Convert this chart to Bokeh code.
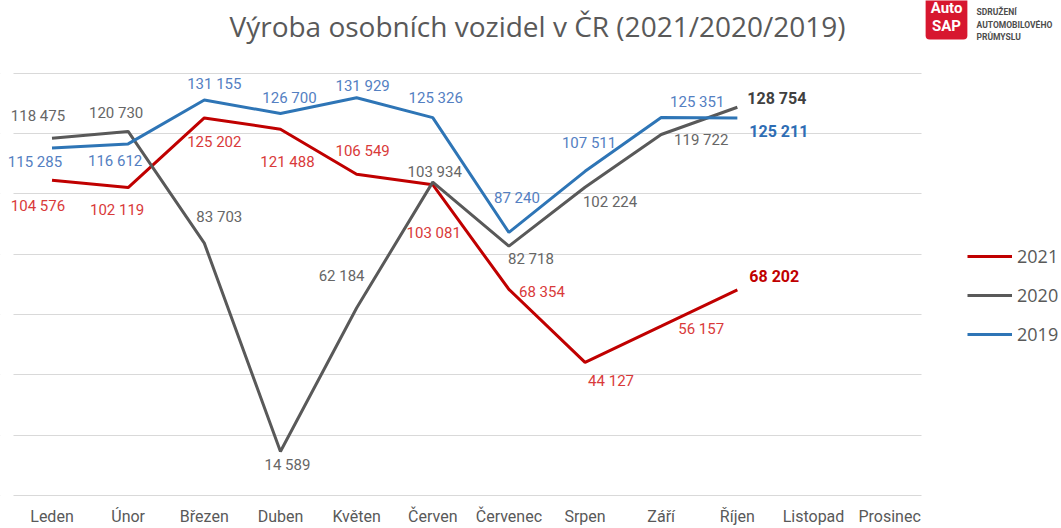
from bokeh.plotting import figure
from bokeh.models import (ColumnDataSource, Range1d, FixedTicker, BoxAnnotation,
                          Legend, LegendItem, Label)
from bokeh.core.properties import value
from bokeh.embed import file_html
from bokeh.resources import INLINE

months = ["Leden", "Únor", "Březen", "Duben", "Květen", "Červen", "Červenec",
          "Srpen", "Září", "Říjen", "Listopad", "Prosinec"]
v2021 = [104576, 102119, 125202, 121488, 106549, 103081, 68354, 44127, 56157, 68202]
v2020 = [118475, 120730, 83703, 14589, 62184, 103934, 82718, 102224, 119722, 128754]
v2019 = [115285, 116612, 131155, 126700, 131929, 125326, 87240, 107511, 125351, 125211]
grid_values = [0, 20000, 40000, 60000, 80000, 100000, 120000, 140000]

# label offsets (screen px) - styling only
off2021 = [(-14, 26), (-11, 22), (10, 24), (7, 33), (6, -23), (1, 48), (33, 3), (26, 19), (40, 3), (12, -13)]
off2020 = [(-14, -22), (-12, -18), (15, -26), (7, 13), (-15, -32), (2, -10), (22, 13), (25, 15), (40, 5), (10, -9)]
off2019 = [(-17, 14), (-13, 17), (10, -16), (9, -15), (6, -12), (3, -20), (8, -34), (4, -28), (36, -16), (12, 14)]

W, H = 1061, 528
FB = 28                      # bottom border (axis)
FH = H - FB                  # frame height
x0_px, step_px = 51.5, 76.15
g_top_px, g_bot_px = 73.3, 498.0
k = (g_bot_px - g_top_px) / 140000.0
y_start = -(FH - g_bot_px) / k
y_end = 140000 + g_top_px / k
x_start = -x0_px / step_px
x_end = (W - x0_px) / step_px

p = figure(width=W, height=H, x_range=Range1d(x_start, x_end), y_range=Range1d(y_start, y_end),
           output_backend="svg", toolbar_location=None,
           min_border_left=0, min_border_right=0, min_border_top=0, min_border_bottom=FB)
p.outline_line_color = None
p.background_fill_color = "white"
p.border_fill_color = "white"
p.xgrid.grid_line_color = None
p.yaxis.ticker = FixedTicker(ticks=grid_values)
p.yaxis.visible = False
p.ygrid.grid_line_color = "#D9D9D9"
p.ygrid.grid_line_width = 1
idx = list(range(len(months)))
p.xaxis.ticker = FixedTicker(ticks=idx)
p.xaxis.major_label_overrides = {i: m for i, m in zip(idx, months)}
p.xaxis.axis_line_color = None
p.xaxis.major_tick_line_color = None
p.xaxis.minor_tick_line_color = None
p.xaxis.major_tick_out = 0
p.xaxis.major_tick_in = 0
p.xaxis.minor_tick_out = 0
p.xaxis.major_label_standoff = 9
p.xaxis.major_label_text_font = "Roboto"
p.xaxis.major_label_text_font_size = "16px"
p.xaxis.major_label_text_color = "#595959"

# trim gridlines to the plot area
p.add_layout(BoxAnnotation(left=0, right=13, top=FH, bottom=0, left_units="screen", right_units="screen",
                           top_units="screen", bottom_units="screen", fill_color="white", fill_alpha=1,
                           line_color=None, level="underlay"))
p.add_layout(BoxAnnotation(left=921, right=W, top=FH, bottom=0, left_units="screen", right_units="screen",
                           top_units="screen", bottom_units="screen", fill_color="white", fill_alpha=1,
                           line_color=None, level="underlay"))

def fmt(v):
    return f"{v:,}".replace(",", " ")

series = [
    ("2021", v2021, off2021, "#C00000", "#D93A3A", "#C00000"),
    ("2020", v2020, off2020, "#595959", "#666666", "#404040"),
    ("2019", v2019, off2019, "#2E75B6", "#5480C2", "#2E6DB4"),
]
items = []
for name, vals, offs, lc, tc, bc in series:
    xs = idx[:len(vals)]
    r = p.line(xs, vals, line_color=lc, line_width=3)
    items.append(LegendItem(label=name, renderers=[r]))
    src = ColumnDataSource(dict(x=xs[:-1], y=vals[:-1], t=[fmt(v) for v in vals[:-1]],
                                dx=[o[0] for o in offs[:-1]], dy=[o[1] for o in offs[:-1]]))
    p.text(x="x", y="y", text="t", source=src, x_offset="dx", y_offset="dy",
           text_align="center", text_baseline="middle", text_color=tc,
           text_font=value("Roboto"), text_font_size="15px")
    src2 = ColumnDataSource(dict(x=[xs[-1]], y=[vals[-1]], t=[fmt(vals[-1])],
                                 dx=[offs[-1][0]], dy=[offs[-1][1]]))
    p.text(x="x", y="y", text="t", source=src2, x_offset="dx", y_offset="dy",
           text_align="left", text_baseline="middle", text_color=bc,
           text_font=value("Roboto"), text_font_size="16px", text_font_style="bold")

legend = Legend(items=items, location=(967, FH - 349), orientation="vertical",
                glyph_width=45, glyph_height=20, label_height=20, spacing=15,
                label_standoff=5, padding=0, margin=0,
                border_line_color=None, background_fill_alpha=0,
                label_text_font="Open Sans", label_text_font_size="18px",
                label_text_color="#595959")
p.add_layout(legend, "center")

# title
p.add_layout(Label(x=537, y=FH - 28, x_units="screen", y_units="screen",
                   text="Výroba osobních vozidel v ČR (2021/2020/2019)",
                   text_align="center", text_baseline="middle",
                   text_font="Open Sans", text_font_size="28px", text_color="#595959"))
# logo
p.add_layout(Label(x=946, y=FH - 19, x_units="screen", y_units="screen", text="Auto\nSAP",
                   text_align="center", text_baseline="middle", text_line_height=1.0,
                   text_font="Roboto", text_font_size="15px",
                   text_font_style="bold", text_color="white",
                   background_fill_color="#D7172F", padding=5, border_radius=4))
p.add_layout(Label(x=976, y=FH - 27, x_units="screen", y_units="screen",
                   text="SDRUŽENÍ\nAUTOMOBILOVÉHO\nPRŮMYSLU",
                   text_align="left", text_baseline="middle", text_line_height=1.25,
                   text_font="Roboto", text_font_size="8.5px",
                   text_font_style="bold", text_color="#4D4D4D"))

open("out.html", "w").write(file_html(p, INLINE))
